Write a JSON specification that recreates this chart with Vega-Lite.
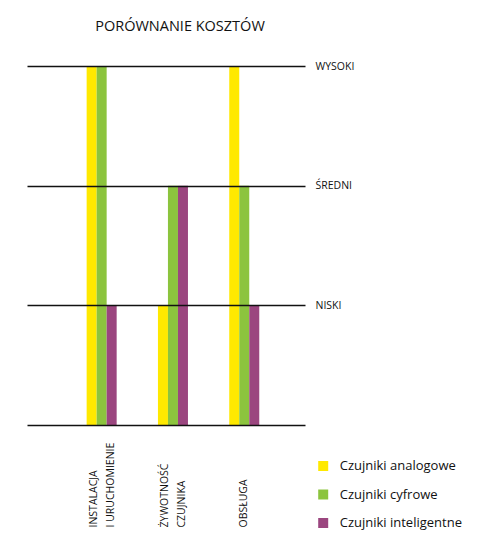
{
  "$schema": "https://vega.github.io/schema/vega-lite/v6.json",
  "autosize": "none",
  "width": 278,
  "height": 359,
  "padding": {"left": 27, "top": 66, "right": 195, "bottom": 126},
  "background": "white",
  "config": {
    "view": {"stroke": null},
    "font": "Open Sans",
    "axis": {"labelFont": "Open Sans", "labelColor": "#111111"}
  },
  "title": {
    "text": "PORÓWNANIE KOSZTÓW",
    "fontSize": 14.5,
    "fontWeight": "normal",
    "color": "#111111",
    "anchor": "middle",
    "dx": 14,
    "offset": 27
  },
  "data": {
    "values": [
      {"koszt": "INSTALACJA I URUCHOMIENIE", "czujnik": "Czujniki analogowe", "poziom": 3},
      {"koszt": "INSTALACJA I URUCHOMIENIE", "czujnik": "Czujniki cyfrowe", "poziom": 3},
      {"koszt": "INSTALACJA I URUCHOMIENIE", "czujnik": "Czujniki inteligentne", "poziom": 1},
      {"koszt": "ŻYWOTNOŚĆ CZUJNIKA", "czujnik": "Czujniki analogowe", "poziom": 1},
      {"koszt": "ŻYWOTNOŚĆ CZUJNIKA", "czujnik": "Czujniki cyfrowe", "poziom": 2},
      {"koszt": "ŻYWOTNOŚĆ CZUJNIKA", "czujnik": "Czujniki inteligentne", "poziom": 2},
      {"koszt": "OBSŁUGA", "czujnik": "Czujniki analogowe", "poziom": 3},
      {"koszt": "OBSŁUGA", "czujnik": "Czujniki cyfrowe", "poziom": 2},
      {"koszt": "OBSŁUGA", "czujnik": "Czujniki inteligentne", "poziom": 1}
    ]
  },
  "mark": {"type": "bar"},
  "encoding": {
    "x": {
      "field": "koszt",
      "type": "nominal",
      "sort": null,
      "scale": {"paddingInner": 0.579, "paddingOuter": 0.739, "align": 0.566, "round": false},
      "axis": {
        "title": null,
        "domain": false,
        "ticks": false,
        "labelAngle": -90,
        "labelAlign": "left",
        "labelBaseline": "middle",
        "labelPadding": 102,
        "labelFontSize": 10.5,
        "labelLineHeight": 17,
        "labelOffset": {"condition": {"test": "datum.value == 'OBSŁUGA'", "value": 0}, "value": -8}, 
        "labelExpr": "datum.label == 'INSTALACJA I URUCHOMIENIE' ? ['INSTALACJA', 'I URUCHOMIENIE'] : split(datum.label, ' ')"
      }
    },
    "xOffset": {
      "field": "czujnik",
      "type": "nominal",
      "scale": {"paddingInner": 0, "paddingOuter": 0}
    },
    "y": {
      "field": "poziom",
      "type": "quantitative",
      "scale": {"domain": [0, 3], "nice": false},
      "axis": {
        "orient": "right",
        "title": null,
        "values": [0, 1, 2, 3],
        "grid": true,
        "gridColor": "#111111",
        "gridWidth": 1.3,
        "gridOpacity": 1,
        "domain": false,
        "ticks": false,
        "zindex": 1,
        "labelPadding": 10,
        "labelFontSize": 10.5,
        "labelExpr": "datum.value == 3 ? 'WYSOKI' : datum.value == 2 ? 'ŚREDNI' : datum.value == 1 ? 'NISKI' : ''"
      }
    },
    "color": {
      "field": "czujnik",
      "type": "nominal",
      "scale": {
        "domain": ["Czujniki analogowe", "Czujniki cyfrowe", "Czujniki inteligentne"],
        "range": ["#ffe900", "#8cc43e", "#9b467f"]
      },
      "legend": {
        "title": null,
        "orient": "none",
        "legendX": 289.7,
        "legendY": 393.5,
        "padding": 0,
        "symbolType": "square",
        "symbolSize": 100,
        "symbolStrokeWidth": 0,
        "symbolOpacity": 1,
        "labelFont": "Open Sans",
        "labelFontSize": 13,
        "labelColor": "#111111",
        "labelOffset": 10,
        "rowPadding": 14.5
      }
    }
  }
}
